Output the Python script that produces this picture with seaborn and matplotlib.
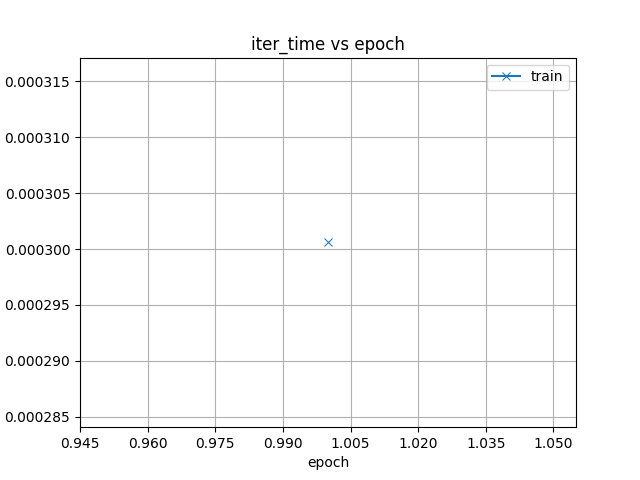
import matplotlib
matplotlib.use("Agg")
import matplotlib.pyplot as plt
import matplotlib.ticker as mticker
import seaborn as sns
import pandas as pd

epochs = [1]
iter_time = [0.0003006]

df = pd.DataFrame({"epoch": epochs, "iter_time": iter_time})

fig, ax = plt.subplots(figsize=(6.4, 4.8), dpi=100)
sns.lineplot(data=df, x="epoch", y="iter_time", marker="x", markeredgecolor="#1f77b4",
             label="train", ax=ax)
ax.set_title("iter_time vs epoch")
ax.set_xlabel("epoch")
ax.set_ylabel("")
ax.set_xticks([0.945, 0.960, 0.975, 0.990, 1.005, 1.020, 1.035, 1.050])
ax.xaxis.set_major_formatter(mticker.FormatStrFormatter("%.3f"))
ax.set_xlim(0.945, 1.055)
ax.grid(True)
ax.legend(loc="upper right")
fig.savefig("out.png")
